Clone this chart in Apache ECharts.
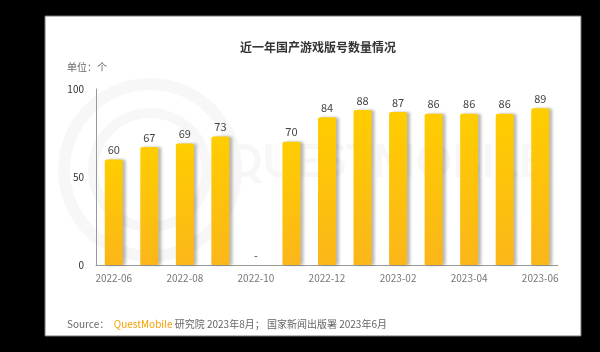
<!DOCTYPE html>
<html>
<head>
<meta charset="utf-8">
<script src="https://cdn.jsdelivr.net/npm/echarts@6/dist/echarts.min.js"></script>
<style>
html, body { margin: 0; padding: 0; background: #000; }
#main { width: 600px; height: 352px; }
</style>
</head>
<body>
<div id="main"></div>
<script>
// 月份 + 版号数量 (2022-10 没有发放, 用 0 占位显示 "-")
var months = ['2022-06', '2022-07', '2022-08', '2022-09', '2022-10', '2022-11', '2022-12',
    '2023-01', '2023-02', '2023-03', '2023-04', '2023-05', '2023-06'];
var counts = [60, 67, 69, 73, 0, 70, 84, 88, 87, 86, 86, 86, 89];
var yTicks = [0, 50, 100];

var font = '"Noto Sans CJK SC", "Noto Sans", sans-serif';
var myChart = echarts.init(document.getElementById('main'));

var option = {
    backgroundColor: '#000',
    animation: false,
    textStyle: { fontFamily: font },
    title: {
        text: '近一年国产游戏版号数量情况',
        left: 313,
        top: 36,
        textAlign: 'center',
        textStyle: { fontSize: 12, fontWeight: 'bold', color: '#333', fontFamily: font }
    },
    graphic: [
        // 白色面板
        { type: 'rect', z: -10, shape: { x: 45, y: 16, width: 536, height: 320 },
          style: { fill: '#fff', stroke: '#777', lineWidth: 1 } },
        // 水印
        { type: 'ring', z: -9, shape: { cx: 150, cy: 170, r: 92, r0: 80 },
          style: { fill: '#f7f7f7' } },
        { type: 'ring', z: -9, shape: { cx: 150, cy: 170, r: 62, r0: 52 },
          style: { fill: '#f7f7f7' } },
        { type: 'text', z: -9, left: 226, top: 140,
          style: { text: 'QUESTMOBILE', fontSize: 45, fontWeight: 'bold', fill: '#f7f7f7', fontFamily: 'Lato' } },
        { type: 'text', left: 67, top: 62,
          style: { text: '单位：个', fontSize: 10, fill: '#666', fontFamily: font } },
        { type: 'text', left: 67, top: 319,
          style: {
              text: '{g|Source：  }{o|QuestMobile}{g| 研究院 2023年8月； 国家新闻出版署 2023年6月}',
              fontFamily: font,
              rich: {
                  g: { fontSize: 10, fill: '#666', fontFamily: font },
                  o: { fontSize: 10, fill: '#f5a000', fontFamily: font }
              }
          } }
    ],
    grid: { left: 96, right: 42, top: 89, bottom: 87 },
    xAxis: {
        type: 'category',
        data: months,
        axisLine: { lineStyle: { color: '#999' } },
        axisTick: { show: false },
        axisLabel: { interval: 1, color: '#777', fontSize: 10, margin: 8 }
    },
    yAxis: {
        type: 'value',
        min: 0,
        max: 100,
        interval: 50,
        axisLine: { show: true, lineStyle: { color: '#999' } },
        axisTick: { show: false },
        splitLine: { show: false },
        axisLabel: {
            color: '#333', fontSize: 10, margin: 12,
            formatter: function (v) { return yTicks.indexOf(v) >= 0 ? v : ''; }
        }
    },
    series: [{
        type: 'bar',
        data: counts,
        barWidth: 18,
        itemStyle: {
            borderRadius: [2, 2, 0, 0],
            color: new echarts.graphic.LinearGradient(0, 0, 0, 1, [
                { offset: 0, color: '#ffcd00' },
                { offset: 1, color: '#fbb619' }
            ]),
            shadowColor: 'rgba(0,0,0,0.28)',
            shadowBlur: 3,
            shadowOffsetX: 3
        },
        label: {
            show: true,
            position: 'top',
            distance: 4,
            color: '#444',
            fontSize: 11,
            formatter: function (p) { return p.value === 0 ? '-' : p.value; }
        }
    }]
};

myChart.setOption(option, true);
window.onresize = function () {
    myChart.resize();
};
</script>
</body>
</html>
